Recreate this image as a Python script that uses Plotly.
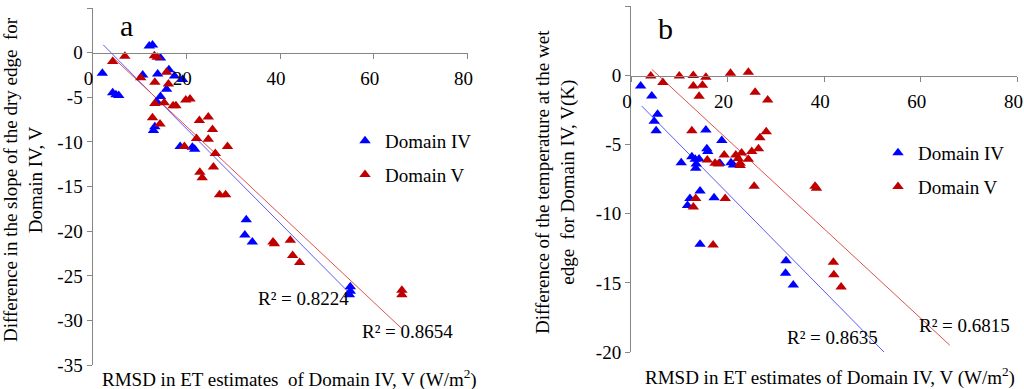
import plotly.graph_objects as go

# ---------------- data ----------------
# Panel a: difference in slope of the dry edge
a_iv_x = [2.1, 4.3, 5.0, 5.6, 12.1, 12.8, 14.5, 10.7, 13.9, 16.3, 17.5, 19.2, 15.8, 14.5,
          13.7, 13.3, 13.0, 18.7, 21.3, 21.8, 32.8, 32.5, 34.1, 55.0, 55.0, 54.8]
a_iv_y = [-2.3, -4.5, -4.7, -4.8, 0.75, 0.85, -0.6, -2.5, -2.4, -1.9, -2.6, -3.0, -4.1, -4.9,
          -5.5, -8.3, -8.7, -10.5, -10.6, -10.8, -18.7, -20.4, -21.2, -26.2, -26.7, -27.1]
a_v_x = [4.3, 6.9, 13.2, 13.8, 10.3, 15.8, 13.3, 16.2, 13.3, 15.3, 17.2, 17.8, 19.9, 20.8,
         12.8, 14.4, 22.8, 24.7, 25.6, 22.2, 24.7, 19.6, 28.8, 26.2, 25.8, 22.9, 23.4, 27.1,
         28.4, 38.5, 38.8, 42.2, 42.7, 44.2, 66.0, 66.0]
a_v_y = [-1.0, -0.4, -0.35, -0.5, -2.8, -2.2, -3.3, -3.5, -5.7, -5.6, -5.95, -5.95, -5.3, -5.2,
         -7.3, -8.0, -7.6, -7.2, -8.6, -9.6, -9.7, -10.5, -10.5, -11.3, -12.8, -13.4, -14.0, -15.9,
         -15.9, -21.2, -21.4, -21.0, -22.7, -23.5, -26.6, -27.1]
a_iv_trend_x = [2.3, 54.6]
a_iv_trend_y = [0.87, -26.8]
a_v_trend_x = [4.3, 66.0]
a_v_trend_y = [-0.5, -30.9]
a_r2 = ["R² = 0.8224", "R² = 0.8654"]

# Panel b: difference of the temperature at the wet edge
b_iv_x = [2.0, 4.3, 5.5, 4.8, 5.2, 15.5, 18.8, 15.7, 15.9, 10.4, 12.6, 13.3, 14.1, 13.5, 13.4,
          18.4, 20.7, 21.2, 14.3, 12.2, 11.7, 17.2, 14.3, 32.1, 32.0, 33.6]
b_iv_y = [-0.76, -1.48, -2.8, -3.3, -4.0, -3.94, -4.7, -5.3, -5.5, -6.3, -5.87, -6.06, -6.04,
          -6.4, -6.7, -6.35, -6.3, -6.47, -8.35, -8.9, -9.4, -8.83, -12.2, -13.4, -14.3, -15.15]
b_v_x = [4.1, 6.6, 10.0, 12.9, 15.5, 12.9, 14.8, 14.1, 20.6, 24.3, 25.7, 28.3, 12.6, 28.0, 26.7,
         26.4, 25.0, 22.9, 19.3, 21.7, 22.2, 24.3, 22.6, 22.6, 15.8, 17.4, 18.1, 25.5, 38.1, 38.4,
         13.4, 12.9, 19.5, 17.0, 41.9, 42.0, 43.5]
b_v_y = [-0.04, -0.5, -0.04, 0.0, -0.13, -0.76, -0.7, -1.5, 0.16, 0.23, -1.2, -1.77, -4.0, -4.06,
         -4.5, -5.3, -5.5, -5.6, -5.75, -5.75, -6.0, -6.06, -6.35, -6.5, -6.1, -6.35, -6.4, -8.0,
         -8.0, -8.15, -8.9, -9.5, -8.9, -12.25, -13.5, -14.4, -15.3]
b_iv_trend_x = [2.2, 52.4]
b_iv_trend_y = [-2.2, -20.0]
b_v_trend_x = [4.3, 66.0]
b_v_trend_y = [0.45, -19.5]
b_r2 = ["R² = 0.8635", "R² = 0.6815"]

x_ticks = [0, 20, 40, 60, 80]
a_y_ticks = [5, 0, -5, -10, -15, -20, -25, -30, -35]
b_y_ticks = [5, 0, -5, -10, -15, -20]
series_names = ["Domain IV", "Domain V"]

# ---------------- styling ----------------
W, H = 1024, 389
FONT = "Times New Roman, Liberation Serif, DejaVu Serif, serif"
BLUE, RED = "#0000FF", "#C00000"
BLUE_LINE, RED_LINE = "#5A5AFF", "#E05050"
AXIS = "#868686"

def px(x):
    return x / W

def py(y):
    return 1 - y / H

# plot areas in pixels
a_x0, a_x1, a_ytop, a_ybot = 92.5, 467.5, 8.0, 365.3
b_x0, b_x1, b_ytop, b_ybot = 631.0, 1017.4, 6.4, 352.1

a_ydom = [py(a_ybot), py(a_ytop)]
b_ydom = [py(b_ybot), py(b_ytop)]
a_xpos = a_ydom[0] + (0 - (-35)) / 40 * (a_ydom[1] - a_ydom[0])
b_xpos = b_ydom[0] + (0 - (-20)) / 25 * (b_ydom[1] - b_ydom[0])

fig = go.Figure()

def scatter(x, y, color, name, xa, ya, legend, show):
    fig.add_trace(go.Scatter(
        x=x, y=y, mode="markers", name=name, xaxis=xa, yaxis=ya,
        legend=legend, legendgroup=legend + name, showlegend=show,
        marker=dict(symbol="triangle-up", size=10, color=color, line=dict(width=0)),
    ))

def trend(x, y, color, xa, ya):
    fig.add_trace(go.Scatter(
        x=x, y=y, mode="lines", xaxis=xa, yaxis=ya, showlegend=False,
        line=dict(color=color, width=1), hoverinfo="skip",
    ))

trend(a_iv_trend_x, a_iv_trend_y, BLUE_LINE, "x", "y")
trend(a_v_trend_x, a_v_trend_y, RED_LINE, "x", "y")
scatter(a_iv_x, a_iv_y, BLUE, series_names[0], "x", "y", "legend", True)
scatter(a_v_x, a_v_y, RED, series_names[1], "x", "y", "legend", True)

trend(b_iv_trend_x, b_iv_trend_y, BLUE_LINE, "x2", "y2")
trend(b_v_trend_x, b_v_trend_y, RED_LINE, "x2", "y2")
scatter(b_iv_x, b_iv_y, BLUE, series_names[0], "x2", "y2", "legend2", True)
scatter(b_v_x, b_v_y, RED, series_names[1], "x2", "y2", "legend2", True)

xcommon = dict(range=[0, 80], tickvals=x_ticks, showline=True, linecolor=AXIS, linewidth=1,
               ticks="outside", ticklen=5, tickcolor=AXIS, showgrid=False, zeroline=False,
               tickfont=dict(family=FONT, size=19, color="#000"), anchor="free",
               ticklabelstandoff=4, ticklabelshift=-4, automargin=False)
ycommon = dict(showline=True, linecolor=AXIS, linewidth=1, ticks="outside", ticklen=5,
               tickcolor=AXIS, showgrid=False, zeroline=False, automargin=False,
               tickfont=dict(family=FONT, size=19, color="#000"))

legend_style = dict(font=dict(family=FONT, size=19, color="#000"), bgcolor="rgba(0,0,0,0)",
                    tracegroupgap=6, itemwidth=30, xanchor="left", yanchor="top")

fig.update_layout(
    width=W, height=H, margin=dict(l=0, r=0, t=0, b=0, autoexpand=False),
    font=dict(family=FONT, size=19, color="#000"),
    paper_bgcolor="white", plot_bgcolor="white",
    xaxis=dict(domain=[px(a_x0), px(a_x1)], position=a_xpos, **xcommon),
    yaxis=dict(domain=a_ydom, range=[-35, 5], tickvals=a_y_ticks,
               ticktext=[str(v) for v in a_y_ticks], anchor="x", **ycommon),
    xaxis2=dict(domain=[px(b_x0), px(b_x1)], position=b_xpos, **xcommon),
    yaxis2=dict(domain=b_ydom, range=[-20, 5], tickvals=b_y_ticks,
                ticktext=[str(v) for v in b_y_ticks], anchor="x2", **ycommon),
    legend=dict(x=px(345), y=py(122), **legend_style),
    legend2=dict(x=px(878), y=py(134), **legend_style),
    showlegend=True,
)

def note(text, x, y, size=19, angle=0):
    fig.add_annotation(text=text, x=px(x), y=py(y), xref="paper", yref="paper",
                       showarrow=False, xanchor="center", yanchor="middle", textangle=angle,
                       font=dict(family=FONT, size=size, color="#000"))

note("a", 126, 26, size=30)
note("b", 665, 29, size=30)
note(a_r2[0], 303, 298)
note(a_r2[1], 407, 331)
note(b_r2[0], 832, 337)
note(b_r2[1], 964, 325)
note("RMSD in ET estimates  of Domain IV, V (W/m<sup>2</sup>)", 289, 378)
note("RMSD in ET estimates of Domain IV, V (W/m<sup>2</sup>)", 830, 376)
note("Difference in the slope of the dry edge  for<br>Domain IV, V", 23, 180, angle=-90)
note("Difference of the temperature at the wet<br>edge  for Domain IV, V(K)", 556, 182, angle=-90)

fig.write_html("out.html", config={"displayModeBar": False},
               post_script="document.body.style.margin='0';document.body.style.overflow='hidden';")
